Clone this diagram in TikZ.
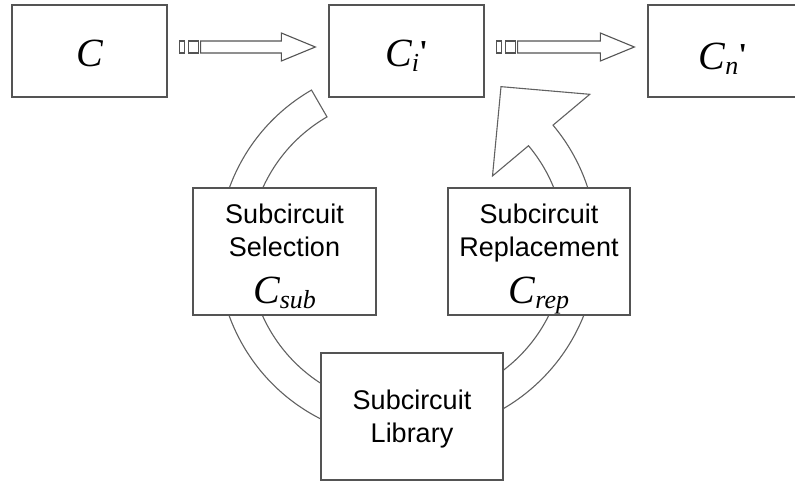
\documentclass[tikz,border=0pt]{standalone}
\usepackage{fontspec}
\setmainfont{Liberation Sans}
\newfontfamily\tms{Liberation Serif}
\newfontfamily\tmsq[Ligatures=TeXOff]{Liberation Serif}
\usetikzlibrary{calc}

\definecolor{edge}{gray}{0.33}
\definecolor{ringedge}{gray}{0.38}

% circuit symbols: italic C with a lowered subscript and an optional prime
\newcommand\csym[1]{{\tms\itshape C\raisebox{-5pt}{\fontsize{26}{26}\selectfont #1}}}
\newcommand\cpr{\raisebox{4pt}{\tmsq\upshape\bfseries\fontsize{32}{32}\selectfont '}}

% block arrow with two small tail blocks, from node #1 to node #2
\newcommand\tailarrow[2]{%
  \path ([shift={(12,4)}]#1.east) coordinate (tailA)
        ([shift={(-13,4)}]#2.west) coordinate (tipA);
  \draw[blockarrow] ($(tailA)+(0,6)$) rectangle ($(tailA)+(5,-6)$);
  \draw[blockarrow] ($(tailA)+(9,6)$) rectangle ($(tailA)+(19,-6)$);
  \draw[blockarrow] ($(tailA)+(21,6)$) -- ($(tipA)+(-34,6)$) -- ($(tipA)+(-34,14)$)
    -- (tipA) -- ($(tipA)+(-34,-14)$) -- ($(tipA)+(-34,-6)$) -- ($(tailA)+(21,-6)$) -- cycle;}

\begin{document}
\begin{tikzpicture}[x=1pt,y=1pt,
  box/.style={draw=edge, fill=white, line width=1.3pt, inner sep=0pt},
  topbox/.style={box, minimum width=155pt, minimum height=92pt,
                 font=\fontsize{40}{40}\selectfont, text depth=0pt},
  lowbox/.style={box, minimum width=182pt, minimum height=127pt},
  lbl/.style={font=\fontsize{27}{33}\selectfont, inner sep=0pt, anchor=base},
  sym/.style={font=\fontsize{40}{40}\selectfont, inner sep=0pt, anchor=base},
  band/.style={draw=ringedge, fill=white, line width=1.1pt, line join=miter},
  blockarrow/.style={draw=edge, fill=white, line width=1.1pt}]

\useasboundingbox (0,0) rectangle (795,-483);
\clip (0,0) rectangle (795,-483);

% centres of the two halves of the loop
\coordinate (O1) at (405,-252);
\coordinate (O2) at (409,-246);

% left half of the loop (selection side)
\draw[band] ([shift={(120:187)}]O1) arc[start angle=120, end angle=270, radius=187]
  -- ([shift={(270:156)}]O1) arc[start angle=270, end angle=120, radius=156] -- cycle;

% right half of the loop ending in the arrow head (replacement side)
\draw[band] ([shift={(-90:188)}]O2) arc[start angle=-90, end angle=40, radius=188]
  -- ([shift={(40:236)}]O2) -- ([shift={(60:184)}]O2) -- ([shift={(40:109)}]O2)
  -- ([shift={(40:156)}]O2) arc[start angle=40, end angle=-90, radius=156] -- cycle;

% top row
\node[topbox, text height=30pt] (c0) at (89.5,-51) {\tms\itshape C};
\node[topbox, text height=30pt] (ci) at (406.5,-51) {\csym{i}\cpr};
\node[topbox, text height=36pt, minimum width=150pt] (cn) at (723,-51) {\csym{n}\cpr};

\tailarrow{c0}{ci}
\tailarrow{ci}{cn}

% lower boxes
\node[lowbox, minimum width=183pt] (sel) at (284.5,-251.5) {};
\node[lowbox] (rep) at (539,-251.5) {};
\node[lowbox] (lib) at (412,-416.5) {};

\node[lbl] (selA) at (284.5,-223) {Subcircuit};
\node[lbl] (selB) at (284.5,-256) {Selection};
\node[sym] (selC) at (284.5,-303) {\csym{sub}};

\node[lbl] (repA) at (539,-223) {Subcircuit};
\node[lbl] (repB) at (539,-256) {Replacement};
\node[sym] (repC) at (539,-303) {\csym{rep}};

\node[lbl] (libA) at (412,-409) {Subcircuit};
\node[lbl] (libB) at (412,-442) {Library};
\end{tikzpicture}
\end{document}
